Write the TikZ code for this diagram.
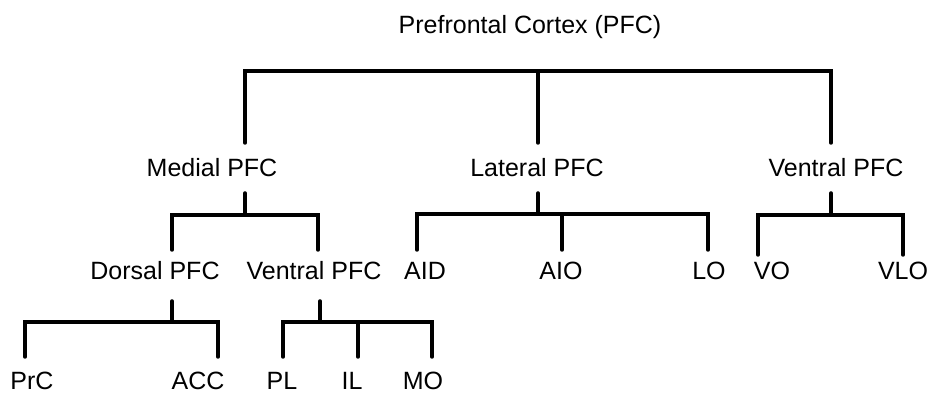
\documentclass[tikz,border=0pt]{standalone}
\usepackage{fontspec}
\setmainfont{Liberation Sans}

\begin{document}
\begin{tikzpicture}[
  x=0.5pt, y=-0.5pt,
  region/.style={anchor=base, inner sep=0pt, font=\fontsize{12.5}{15}\selectfont},
  branch/.style={line width=1.75pt, line cap=round, line join=miter, draw=black}
]
\useasboundingbox (0,0) rectangle (930,394);

% --- root: the whole prefrontal cortex ---
\node[region] (pfc) at (530,34) {Prefrontal Cortex (PFC)};
\coordinate (pfc-bar) at (538,71);

% --- first split: medial / lateral / ventral ---
\node[region] (mpfc) at (212,177) {Medial PFC};
\node[region] (lpfc) at (537,177) {Lateral PFC};
\node[region] (vpfc) at (836,177) {Ventral PFC};
\coordinate (mpfc-tip) at (245,143);
\coordinate (lpfc-tip) at (538,143);
\coordinate (vpfc-tip) at (831,143);
\coordinate (mpfc-stem) at (245,193);
\coordinate (lpfc-stem) at (538,193);
\coordinate (vpfc-stem) at (831,193);
\coordinate (mpfc-bar) at (245,215);
\coordinate (lpfc-bar) at (538,214);
\coordinate (vpfc-bar) at (831,215);

% --- second split ---
\node[region] (dpfc)  at (155,280) {Dorsal PFC};
\node[region] (vmpfc) at (314,280) {Ventral PFC};
\node[region] (aid)   at (425,280) {AID};
\node[region] (aio)   at (561,280) {AIO};
\node[region] (lo)    at (709,280) {LO};
\node[region] (vo)    at (772,280) {VO};
\node[region] (vlo)   at (903,280) {VLO};
\coordinate (dpfc-tip)  at (172,250);
\coordinate (vmpfc-tip) at (318,250);
\coordinate (aid-tip)   at (417,250);
\coordinate (aio-tip)   at (562,250);
\coordinate (lo-tip)    at (708,250);
\coordinate (vo-tip)    at (758,255);
\coordinate (vlo-tip)   at (903,255);
\coordinate (dpfc-stem)  at (172,301);
\coordinate (vmpfc-stem) at (320,301);
\coordinate (dpfc-bar)   at (172,322);
\coordinate (vmpfc-bar)  at (320,322);

% --- third split: medial subregions ---
\node[region] (prc) at (32,390)  {PrC};
\node[region] (acc) at (198,390) {ACC};
\node[region] (pl)  at (282,390) {PL};
\node[region] (il)  at (352,390) {IL};
\node[region] (mo)  at (423,390) {MO};
\coordinate (prc-tip) at (25,357);
\coordinate (acc-tip) at (218,357);
\coordinate (pl-tip)  at (283,357);
\coordinate (il-tip)  at (358,357);
\coordinate (mo-tip)  at (432,357);

% brackets under the root
\draw[branch] (mpfc-tip) -- (mpfc-tip |- pfc-bar) -- (vpfc-tip |- pfc-bar) -- (vpfc-tip);
\draw[branch] (lpfc-tip) -- (pfc-bar);

% brackets under medial / lateral / ventral
\draw[branch] (mpfc-stem) -- (mpfc-bar);
\draw[branch] (dpfc-tip) -- (dpfc-tip |- mpfc-bar) -- (vmpfc-tip |- mpfc-bar) -- (vmpfc-tip);
\draw[branch] (lpfc-stem) -- (lpfc-bar);
\draw[branch] (aid-tip) -- (aid-tip |- lpfc-bar) -- (lo-tip |- lpfc-bar) -- (lo-tip);
\draw[branch] (aio-tip) -- (aio-tip |- lpfc-bar);
\draw[branch] (vpfc-stem) -- (vpfc-bar);
\draw[branch] (vo-tip) -- (vo-tip |- vpfc-bar) -- (vlo-tip |- vpfc-bar) -- (vlo-tip);

% brackets under dorsal / ventral (medial)
\draw[branch] (dpfc-stem) -- (dpfc-bar);
\draw[branch] (prc-tip) -- (prc-tip |- dpfc-bar) -- (acc-tip |- dpfc-bar) -- (acc-tip);
\draw[branch] (vmpfc-stem) -- (vmpfc-bar);
\draw[branch] (pl-tip) -- (pl-tip |- vmpfc-bar) -- (mo-tip |- vmpfc-bar) -- (mo-tip);
\draw[branch] (il-tip) -- (il-tip |- vmpfc-bar);

\end{tikzpicture}
\end{document}
